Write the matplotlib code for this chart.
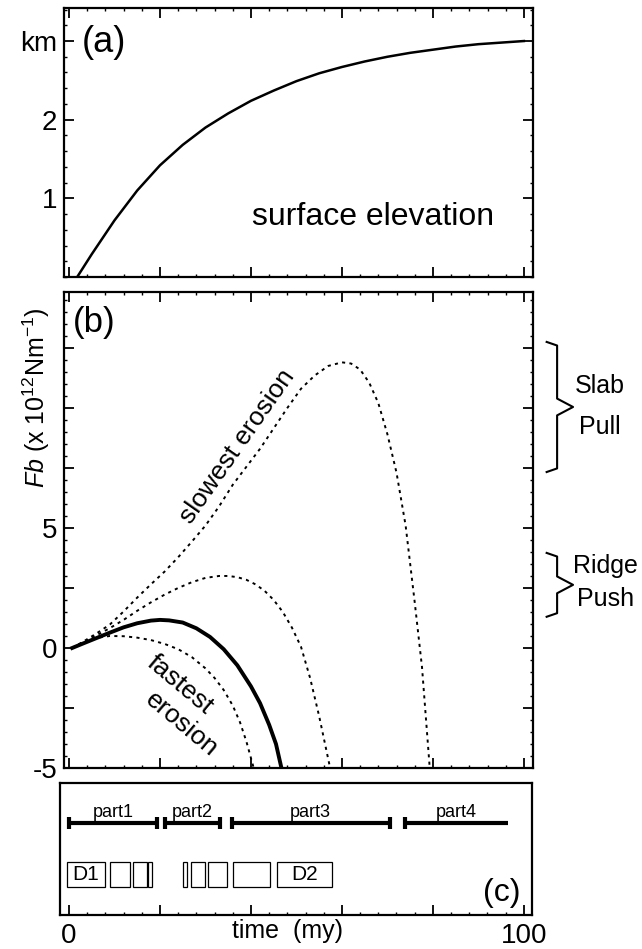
import matplotlib.pyplot as plt
from matplotlib.ticker import MultipleLocator

plt.rcParams['font.family'] = ['Liberation Sans', 'DejaVu Sans']
plt.rcParams['mathtext.fontset'] = 'custom'
plt.rcParams['mathtext.rm'] = 'Liberation Sans'
plt.rcParams['mathtext.it'] = 'Liberation Sans:italic'

# (a) surface elevation (km) vs time (my)
elev_t = [1.8, 5, 10, 15, 20, 25, 30, 35, 40, 45, 50, 55, 60, 65, 70, 75,
          80, 85, 90, 95, 100]
elev_km = [0, 0.29, 0.72, 1.1, 1.42, 1.68, 1.9, 2.08, 2.24, 2.37, 2.49, 2.59,
           2.67, 2.74, 2.80, 2.85, 2.89, 2.93, 2.96, 2.98, 3.0]

# (b) Fb (x 10^12 N/m) vs time
mid_erosion_t = [0.7, 3, 6, 9, 12, 15, 18, 20, 22, 25, 28, 31, 34, 37, 40,
                 42, 44, 45.5, 46.7]
mid_erosion_fb = [0, 0.18, 0.41, 0.64, 0.86, 1.03, 1.14, 1.17, 1.15, 1.06,
                  0.82, 0.46, -0.05, -0.72, -1.6, -2.3, -3.2, -4.0, -5.0]

fast_t = [0.7, 3, 6, 9, 12, 15, 18, 21, 24, 27, 30, 32, 34, 36, 37.6, 39, 40.6]
fast_fb = [0, 0.22, 0.42, 0.5, 0.49, 0.43, 0.33, 0.17, -0.05, -0.38, -0.85,
           -1.25, -1.75, -2.4, -3.1, -3.9, -5.0]

slow2_t = [0.7, 3, 6, 9, 12, 15, 18, 21, 24, 27, 30, 33, 35, 37, 39, 41, 43,
           45, 47, 49, 51, 53, 55, 57.4]
slow2_fb = [0, 0.22, 0.52, 0.83, 1.17, 1.55, 1.9, 2.22, 2.5, 2.74, 2.92, 3.0,
            3.0, 2.95, 2.84, 2.65, 2.38, 2.0, 1.5, 0.85, 0.05, -1.25, -2.85,
            -5.0]

slow_t = [0.7, 3, 6, 9, 12, 15, 18, 21, 24, 27, 30, 33, 36, 39, 42, 45, 48,
          51, 54, 57, 60, 62, 64, 66, 68, 70, 72, 74, 76, 77.6, 79.3]
slow_fb = [0, 0.25, 0.6, 0.98, 1.52, 2.1, 2.65, 3.18, 3.78, 4.43, 5.1, 5.9,
           6.8, 7.55, 8.3, 9.15, 10.0, 10.8, 11.35, 11.75, 11.9, 11.85, 11.6,
           11.05, 10.2, 8.9, 7.3, 5.1, 1.9, -0.8, -5.0]

slab_pull = (7.33, 12.75)
ridge_push = (1.3, 3.96)

# (c) parts and deformation boxes
part_names = ['part1', 'part2', 'part3', 'part4']
part_start = [0, 21.1, 35.8, 73.8]
part_end = [19.3, 33.2, 70.5, 96.5]
part_end_cap = [True, True, True, False]

box_start = [-0.4, 9.0, 14.1, 17.4, 25.1, 26.8, 30.6, 36.0, 45.7]
box_end = [7.9, 13.4, 17.1, 18.2, 25.9, 29.9, 34.7, 44.2, 57.8]
box_names = ['D1', '', '', '', '', '', '', '', 'D2']

fig = plt.figure(figsize=(6.42, 9.49), dpi=100)
W, H = 642.0, 949.0


def rect(l, t, r, b):
    return [l / W, 1 - b / H, (r - l) / W, (b - t) / H]


ax_a = fig.add_axes(rect(64, 8, 533, 277))
ax_b = fig.add_axes(rect(64, 292, 533, 768))
ax_c = fig.add_axes(rect(60, 783, 532, 915))

for ax in (ax_a, ax_b, ax_c):
    for s in ax.spines.values():
        s.set_linewidth(1.6)
    ax.tick_params(which='both', direction='in', top=True, right=True,
                   labelsize=20, pad=5)
    ax.tick_params(which='major', length=7, width=1.3)
    ax.tick_params(which='minor', length=2.5, width=1)

# ---- (a)
ax_a.plot(elev_t, elev_km, color='black', lw=1.8)
ax_a.set_xlim(-1.1, 102)
ax_a.set_ylim(0, 3.42)
ax_a.set_yticks([1, 2, 3])
ax_a.set_yticklabels(['1', '2', 'km'])
ax_a.yaxis.set_minor_locator(MultipleLocator(0.2))
ax_a.xaxis.set_major_locator(MultipleLocator(20))
ax_a.xaxis.set_minor_locator(MultipleLocator(4))
ax_a.set_xticklabels([])
ax_a.text(0.085, 0.87, '(a)', transform=ax_a.transAxes, fontsize=26,
          ha='center', va='center')
ax_a.text(0.66, 0.223, 'surface elevation', transform=ax_a.transAxes,
          fontsize=23, ha='center', va='center')

# ---- (b)
dots = (0, (1.6, 2.2))
ax_b.plot(slow_t, slow_fb, color='black', lw=1.4, ls=dots)
ax_b.plot(slow2_t, slow2_fb, color='black', lw=1.4, ls=dots)
ax_b.plot(fast_t, fast_fb, color='black', lw=1.4, ls=dots)
ax_b.plot(mid_erosion_t, mid_erosion_fb, color='black', lw=2.8)
ax_b.set_xlim(-1.1, 102)
ax_b.yaxis.set_major_locator(MultipleLocator(2.5))
ax_b.yaxis.set_minor_locator(MultipleLocator(0.5))
ax_b.set_ylim(-5, 14.83)
ax_b.set_yticks([-5, -2.5, 0, 2.5, 5, 7.5, 10, 12.5])
ax_b.set_yticklabels(['-5', '', '0', '', '5', '', '', ''])
ax_b.xaxis.set_major_locator(MultipleLocator(20))
ax_b.xaxis.set_minor_locator(MultipleLocator(4))
ax_b.set_xticklabels([])
ax_b.set_ylim(-5, 14.83)
ax_b.text(0.064, 0.935, '(b)', transform=ax_b.transAxes, fontsize=25,
          ha='center', va='center')
ax_b.text(-0.06, 0.779, r'$\mathit{Fb}$ (x 10$^{12}$Nm$^{-1}$)',
          transform=ax_b.transAxes, fontsize=18, rotation=90,
          ha='center', va='center')
ax_b.text(37.1, 8.4, 'slowest erosion', rotation=55, fontsize=19,
          ha='center', va='center', rotation_mode='anchor')
ax_b.text(24.4, -1.55, 'fastest', rotation=-40, fontsize=19,
          ha='center', va='center', rotation_mode='anchor')
ax_b.text(24.8, -3.2, 'erosion', rotation=-40, fontsize=19,
          ha='center', va='center', rotation_mode='anchor')


def brace(ax, lo, hi, x0=105.0, x1=107.3, x2=110.8):
    mid = (lo + hi) / 2
    d = 0.35
    xs = [x0, x1, x1, x2, x1, x1, x0]
    ys = [hi, hi - 0.15, mid + d, mid, mid - d, lo + 0.15, lo]
    ax.plot(xs, ys, color='black', lw=1.5, clip_on=False)


brace(ax_b, *slab_pull)
brace(ax_b, *ridge_push)
ax_b.text(116.7, 10.9, 'Slab', fontsize=18, ha='center', va='center',
          clip_on=False)
ax_b.text(116.7, 9.2, 'Pull', fontsize=18, ha='center', va='center',
          clip_on=False)
ax_b.text(118.0, 3.4, 'Ridge', fontsize=18, ha='center', va='center',
          clip_on=False)
ax_b.text(118.0, 2.05, 'Push', fontsize=18, ha='center', va='center',
          clip_on=False)

# ---- (c)
ax_c.set_xlim(-1.98, 101.8)
ax_c.set_ylim(0, 1)
bar_y = 0.70
for name, s, e, cap in zip(part_names, part_start, part_end, part_end_cap):
    ax_c.plot([s, e], [bar_y, bar_y], color='black', lw=3, solid_capstyle='butt')
    ax_c.plot([s], [bar_y], marker='|', ms=9, mew=3, color='black')
    if cap:
        ax_c.plot([e], [bar_y], marker='|', ms=9, mew=3, color='black')
    ax_c.text((s + e) / 2, bar_y + 0.01, name, fontsize=13, ha='center',
              va='bottom')

box_w = [e - s for s, e in zip(box_start, box_end)]
ax_c.bar(box_start, 0.19, width=box_w, bottom=0.21, align='edge',
         fill=False, edgecolor='black', lw=0.9)
for name, s, e in zip(box_names, box_start, box_end):
    if name:
        ax_c.text((s + e) / 2, 0.305, name, fontsize=15, ha='center',
                  va='center')

ax_c.text(0.936, 0.17, '(c)', transform=ax_c.transAxes, fontsize=23,
          ha='center', va='center')
ax_c.set_xticks([0, 20, 40, 60, 80, 100])
ax_c.set_xticklabels(['0', '', '', '', '', '100'])
ax_c.xaxis.set_minor_locator(MultipleLocator(4))
ax_c.tick_params(axis='x', which='both', top=False, pad=6)
ax_c.tick_params(axis='y', which='both', left=False, right=False,
                 labelleft=False)
ax_c.text(48, -0.12, 'time  (my)', fontsize=18, ha='center', va='center',
          transform=ax_c.get_xaxis_transform())

fig.savefig('out.png', dpi=100)
